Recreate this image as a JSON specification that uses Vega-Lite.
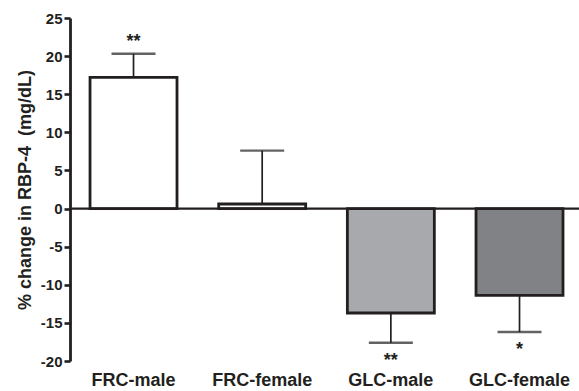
{
  "$schema": "https://vega.github.io/schema/vega-lite/v6.json",
  "autosize": "none",
  "padding": {"left": 70, "top": 18, "right": 0, "bottom": 30},
  "width": 509,
  "height": 343,
  "background": "white",
  "config": {
    "view": {"stroke": null},
    "font": "Liberation Sans",
    "axisY": {"labelOverlap": false, "tickCount": 10, "labelFlush": false}
  },
  "data": {
    "values": [
      {"group": "FRC-male", "value": 17.2, "err": 20.3, "sig": "**", "dir": "up"},
      {"group": "FRC-female", "value": 0.6, "err": 7.6, "sig": "", "dir": "up"},
      {"group": "GLC-male", "value": -13.7, "err": -17.6, "sig": "**", "dir": "down"},
      {"group": "GLC-female", "value": -11.4, "err": -16.2, "sig": "*", "dir": "down"}
    ]
  },
  "encoding": {
    "x": {
      "field": "group",
      "type": "nominal",
      "sort": null,
      "scale": {"paddingInner": 0.324, "paddingOuter": 0.14, "align": 0.556},
      "axis": {
        "title": null,
        "orient": "bottom",
        "domain": false,
        "ticks": false,
        "labelAngle": 0,
        "labelFont": "Liberation Sans",
        "labelFontWeight": "bold",
        "labelFontSize": 18,
        "labelColor": "#231f20",
        "labelPadding": 10
      }
    }
  },
  "layer": [
    {
      "mark": {"type": "bar", "stroke": "#231f20", "strokeWidth": 2.8},
      "encoding": {
        "y": {
          "field": "value",
          "type": "quantitative",
          "scale": {"domain": [-20, 25], "nice": false, "zero": true},
          "axis": {
            "title": "% change in RBP-4 \u00a0(mg/dL)",
            "titleFont": "Liberation Sans",
            "titleFontWeight": "bold",
            "titleFontSize": 18,
            "titleColor": "#231f20",
            "titlePadding": 6,
            "values": [-20, -15, -10, -5, 0, 5, 10, 15, 20, 25],
            "labelExpr": "'' + datum.value",
            "labelOverlap": false,
            "grid": false,
            "domainColor": "#231f20",
            "domainWidth": 2.8,
            "tickColor": "#231f20",
            "tickWidth": 2.6,
            "tickSize": 6,
            "labelFont": "Liberation Sans",
            "labelFontWeight": "bold",
            "labelFontSize": 15,
            "labelColor": "#231f20",
            "labelPadding": 2
          }
        },
        "color": {
          "field": "group",
          "type": "nominal",
          "scale": {
            "domain": ["FRC-male", "FRC-female", "GLC-male", "GLC-female"],
            "range": ["#ffffff", "#ffffff", "#a7a9ac", "#808285"]
          },
          "legend": null
        }
      }
    },
    {
      "mark": {"type": "rule", "color": "#231f20", "strokeWidth": 1.7},
      "encoding": {
        "y": {"field": "value", "type": "quantitative"},
        "y2": {"field": "err"}
      }
    },
    {
      "mark": {"type": "tick", "color": "#231f20", "thickness": 2.4, "size": 44},
      "encoding": {
        "y": {"field": "err", "type": "quantitative"}
      }
    },
    {
      "data": {"values": [{"value": 0}]},
      "mark": {"type": "rule", "color": "#231f20", "strokeWidth": 2.2},
      "encoding": {
        "y": {"field": "value", "type": "quantitative"},
        "x": {"value": 0},
        "x2": {"value": 509}
      }
    },
    {
      "transform": [{"filter": "datum.dir === 'up'"}],
      "mark": {"type": "text", "font": "Liberation Sans", "fontWeight": "bold", "fontSize": 18, "baseline": "alphabetic", "dy": -7, "color": "#231f20"},
      "encoding": {
        "y": {"field": "err", "type": "quantitative"},
        "text": {"field": "sig"}
      }
    },
    {
      "transform": [{"filter": "datum.dir === 'down'"}],
      "mark": {"type": "text", "font": "Liberation Sans", "fontWeight": "bold", "fontSize": 18, "baseline": "alphabetic", "dy": 23, "color": "#231f20"},
      "encoding": {
        "y": {"field": "err", "type": "quantitative"},
        "text": {"field": "sig"}
      }
    }
  ]
}
